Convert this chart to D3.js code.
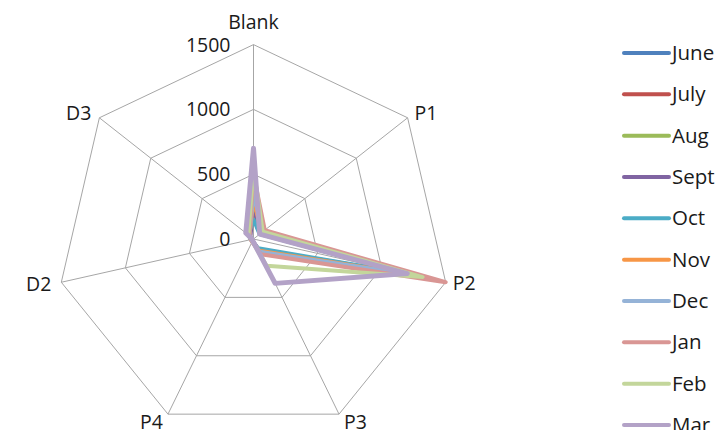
<!DOCTYPE html>
<html>
<head>
<meta charset="utf-8">
<script src="https://cdn.jsdelivr.net/npm/d3@7"></script>
<style>
  html, body { margin: 0; padding: 0; background: #fff; }
  svg { display: block; }
  text { font-family: "Open Sans", Lato, "Liberation Sans", sans-serif; fill: #1a1a1a; }
</style>
</head>
<body>
<svg id="chart" width="718" height="430"></svg>
<script>
// Radar axes (clockwise from top)
const categories = ["Blank", "P1", "P2", "P3", "P4", "D2", "D3"];
const tickValues = [0, 500, 1000, 1500];
const months = ["June", "July", "Aug", "Sept", "Oct", "Nov", "Dec", "Jan", "Feb", "Mar"];
const colors = ["#4F81BD", "#C0504D", "#9BBB59", "#8064A2", "#4BACC6",
                "#F79646", "#95B3D7", "#D99694", "#C3D69B", "#B3A2C7"];

// Monthly values per axis: Blank, P1, P2, P3, P4, D2, D3
const june = [300, 80, 1220, 100, 20, 20, 40];
const july = [280, 90, 1250, 110, 20, 20, 40];
const aug  = [400, 80, 1240, 100, 20, 15, 40];
const sept = [250, 70, 1200, 90, 15, 15, 30];
const oct  = [150, 60, 1200, 80, 20, 20, 50];
const nov  = [300, 80, 1250, 100, 20, 20, 40];
const dec  = [350, 90, 1260, 110, 20, 20, 40];
const jan  = [500, 110, 1500, 130, 25, 20, 40];
const feb  = [550, 90, 1320, 230, 20, 15, 50];
const mar  = [700, 60, 1200, 380, 15, 10, 75];
const seriesValues = [june, july, aug, sept, oct, nov, dec, jan, feb, mar];

const svg = d3.select("#chart");
const cx = 253.5, cy = 239;
const sx = 1.014; // plot area is a touch wider than tall

const r = d3.scaleLinear().domain([0, 1500]).range([0, 194.4]);
const angle = d3.scalePoint().domain(categories)
  .range([0, 2 * Math.PI * (categories.length - 1) / categories.length]);

const pt = (cat, v) => {
  const a = angle(cat);
  return [cx + sx * r(v) * Math.sin(a), cy - r(v) * Math.cos(a)];
};

const g = svg.append("g");

// grid rings
tickValues.filter(t => t > 0).forEach(t => {
  g.append("polygon")
    .attr("points", categories.map(c => pt(c, t).join(",")).join(" "))
    .attr("fill", "none")
    .attr("stroke", "#a6a6a6")
    .attr("stroke-width", 1);
});

// spokes
categories.forEach(c => {
  const [x, y] = pt(c, 1500);
  g.append("line")
    .attr("x1", cx).attr("y1", cy).attr("x2", x).attr("y2", y)
    .attr("stroke", "#a6a6a6").attr("stroke-width", 1);
});

// value ticks along the top axis
tickValues.forEach(t => {
  const [x, y] = pt("Blank", t);
  g.append("text")
    .attr("x", x - 23).attr("y", y + 7)
    .attr("text-anchor", "end")
    .attr("font-size", 19.5)
    .text(t);
});

// category labels: offset from the outer vertex
const labelPos = {
  Blank: [0, -16, "middle"], P1: [7, 2, "start"], P2: [7, 8, "start"],
  P3: [5, 15, "start"], P4: [-5, 15, "end"], D2: [-10, 9, "end"], D3: [-8, 2, "end"]
};
categories.forEach(c => {
  const [x, y] = pt(c, 1500);
  const [dx, dy, anchor] = labelPos[c];
  g.append("text")
    .attr("x", x + dx).attr("y", y + dy)
    .attr("text-anchor", anchor)
    .attr("font-size", 19.5)
    .text(c);
});

// series lines
const line = d3.line()
  .x((d, i) => pt(categories[i], d)[0])
  .y((d, i) => pt(categories[i], d)[1])
  .curve(d3.curveLinearClosed);

seriesValues.forEach((vals, i) => {
  g.append("path")
    .attr("d", line(vals))
    .attr("fill", "none")
    .attr("stroke", colors[i])
    .attr("stroke-width", i === 9 ? 5 : 4)
    .attr("stroke-linejoin", "round")
    .attr("stroke-linecap", "round");
});

// legend
const ly = d3.scalePoint().domain(months).range([53, 425]);
const leg = svg.append("g");
months.forEach((m, i) => {
  const y = ly(m);
  leg.append("line")
    .attr("x1", 624).attr("x2", 669).attr("y1", y).attr("y2", y)
    .attr("stroke", colors[i]).attr("stroke-width", 4)
    .attr("stroke-linecap", "round");
  leg.append("text")
    .attr("x", 672).attr("y", y + 7)
    .attr("font-size", 20.5)
    .text(m);
});
</script>
</body>
</html>
